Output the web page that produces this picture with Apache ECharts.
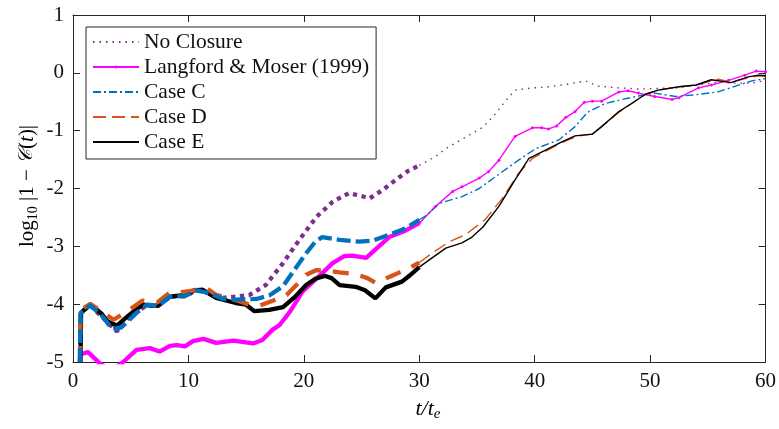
<!DOCTYPE html>
<html>
<head>
<meta charset="utf-8">
<script src="https://cdn.jsdelivr.net/npm/echarts@6/dist/echarts.min.js"></script>
<style>
html,body{margin:0;padding:0;background:#fff;}
#chart{width:779px;height:429px;}
</style>
</head>
<body>
<div id="chart"></div>
<script>
// ---- data (t/t_e, log10|1-C(t)|) ----
const xTicks = [0, 10, 20, 30, 40, 50, 60];
const yTicks = [-5, -4, -3, -2, -1, 0, 1];
const seriesNames = ['No Closure', 'Langford & Moser (1999)', 'Case C', 'Case D', 'Case E'];
const tSplit = 30;

const noClosure = [[0.6,-5],[0.65,-4.15],[1.5,-4.02],[2.5,-4.22],[3.8,-4.47],[5.0,-4.2],[6.4,-4.02],[7.4,-4.03],[8.4,-3.87],[9.7,-3.86],[10.7,-3.76],[11.8,-3.81],[13.0,-3.89],[14.1,-3.87],[15.3,-3.84],[16.7,-3.67],[18.2,-3.29],[19.6,-2.89],[21.1,-2.49],[22.5,-2.23],[23.9,-2.08],[25.0,-2.13],[25.7,-2.17],[26.8,-2.03],[28.3,-1.80],[29.0,-1.70],[30,-1.60],[31.4,-1.45],[32.3,-1.31],[34.3,-1.08],[35.5,-0.94],[36.6,-0.71],[37.5,-0.48],[38.3,-0.30],[39.8,-0.26],[40.9,-0.25],[42.7,-0.20],[44.4,-0.14],[45.5,-0.23],[47.3,-0.26],[49,-0.28],[50.7,-0.27],[52.5,-0.26],[54.2,-0.21],[55.9,-0.16],[57.6,-0.18],[59.1,-0.17],[60,-0.13]];

const langford = [[0.6,-4.87],[1.3,-4.83],[2.3,-5.02],[3.3,-5.15],[4.35,-5.0],[5.5,-4.79],[6.65,-4.76],[7.5,-4.82],[8.4,-4.72],[9.0,-4.71],[9.7,-4.73],[10.4,-4.64],[11.3,-4.60],[12.4,-4.67],[13.9,-4.63],[15.6,-4.68],[16.4,-4.62],[17.3,-4.44],[17.9,-4.36],[18.8,-4.13],[19.9,-3.78],[21.3,-3.52],[22.5,-3.29],[23.5,-3.17],[24.2,-3.16],[25.4,-3.2],[26.5,-3.0],[27.4,-2.84],[28.8,-2.73],[30,-2.6],[31.4,-2.31],[32.9,-2.05],[33.7,-1.97],[35.2,-1.82],[36,-1.71],[36.9,-1.51],[38.3,-1.10],[39.8,-0.95],[40.6,-0.95],[41.2,-0.97],[41.9,-0.92],[42.7,-0.77],[43.5,-0.67],[44.3,-0.51],[45,-0.49],[45.8,-0.49],[47.3,-0.33],[48.1,-0.31],[49,-0.35],[50.4,-0.41],[51.9,-0.46],[52.5,-0.43],[54.2,-0.26],[55.3,-0.21],[56.8,-0.13],[58.2,-0.04],[59.2,0.03],[60,0.02]];

const caseC = [[0.6,-5],[0.65,-4.15],[1.5,-4.02],[2.5,-4.2],[3.4,-4.43],[4.2,-4.4],[5.5,-4.15],[6.4,-4.01],[7.4,-4.03],[8.4,-3.87],[9.7,-3.86],[10.7,-3.76],[11.8,-3.81],[13.0,-3.91],[14.1,-3.92],[15.9,-3.91],[17.0,-3.85],[18.2,-3.69],[19.0,-3.46],[20.2,-3.12],[21.0,-2.92],[21.6,-2.84],[23.1,-2.89],[24.8,-2.92],[26.0,-2.9],[27.4,-2.80],[28.8,-2.69],[30,-2.54],[30.6,-2.47],[31.7,-2.26],[33.7,-2.14],[35.2,-2.0],[37.2,-1.71],[38.6,-1.51],[40.1,-1.31],[42.1,-1.16],[43.5,-0.93],[44.6,-0.68],[46.1,-0.53],[47.6,-0.46],[49,-0.40],[50.4,-0.35],[52.2,-0.41],[53.9,-0.38],[55.9,-0.33],[57.4,-0.23],[58.8,-0.14],[60,-0.10]];

const caseD = [[0.6,-5],[0.65,-4.1],[1.5,-4.0],[2.5,-4.12],[3.5,-4.27],[4.5,-4.15],[6.0,-3.94],[7.3,-3.97],[8.4,-3.80],[9.5,-3.79],[10.5,-3.76],[11.5,-3.71],[12.4,-3.84],[13.5,-3.9],[14.4,-3.95],[15.3,-4.01],[16.2,-4.02],[17.6,-3.92],[18.5,-3.84],[19.4,-3.66],[20.2,-3.49],[21.1,-3.41],[22.0,-3.42],[23.1,-3.45],[24.5,-3.48],[25.5,-3.55],[26.2,-3.63],[27.4,-3.53],[28.3,-3.45],[29.2,-3.37],[30,-3.28],[31.1,-3.12],[32.6,-2.92],[34,-2.80],[35.7,-2.54],[37.2,-2.17],[38.6,-1.74],[39.8,-1.48],[40.9,-1.36],[42.4,-1.2],[43.8,-1.09],[45,-1.06],[45.8,-0.93],[47.3,-0.68],[48.4,-0.53],[49.6,-0.37],[50.7,-0.30],[52.5,-0.24],[54,-0.21],[55.9,-0.11],[57,-0.16],[58.5,-0.09],[59.4,-0.05],[60,-0.06]];

const caseE = [[0.65,-5],[0.7,-4.15],[1.5,-4.0],[2.5,-4.17],[3.0,-4.3],[3.8,-4.37],[4.8,-4.2],[6.0,-4.01],[7.3,-4.03],[8.4,-3.87],[9.7,-3.84],[10.5,-3.76],[11.2,-3.75],[12.4,-3.89],[14.1,-3.98],[15.0,-4.01],[15.7,-4.12],[17.0,-4.1],[18.2,-4.05],[19.2,-3.88],[20.2,-3.67],[21.0,-3.56],[21.8,-3.51],[22.4,-3.55],[23.1,-3.67],[24.5,-3.7],[25.3,-3.76],[26.2,-3.9],[27.1,-3.71],[28.5,-3.61],[29.2,-3.5],[30,-3.36],[30.9,-3.23],[32.3,-3.03],[33.7,-2.94],[34.5,-2.85],[35.5,-2.67],[36.9,-2.31],[38.3,-1.85],[39.5,-1.48],[40.9,-1.34],[42.4,-1.19],[43.5,-1.09],[45,-1.06],[45.8,-0.93],[47.3,-0.67],[48.4,-0.53],[49.6,-0.37],[50.7,-0.30],[52.5,-0.24],[54,-0.21],[55.3,-0.12],[57,-0.17],[58.5,-0.07],[59.4,-0.04],[60,-0.05]];

// ---- styles ----
const FONT = '"Liberation Serif", "DejaVu Serif", serif';
const AX = '#262626';
const styles = {
  'No Closure':             {color:'#7E2F8E', thin:[1.5,5],   thick:[4.3,4.5], sym:false},
  'Langford & Moser (1999)':{color:'#FF00FF', thin:'solid',   thick:'solid',   sym:true},
  'Case C':                 {color:'#0072BD', thin:[8,3,2,3], thick:[14,5],    sym:false},
  'Case D':                 {color:'#D95319', thin:[13,6],    thick:[16,12],   sym:false},
  'Case E':                 {color:'#000000', thin:'solid',   thick:'solid',   sym:false}
};
const dataMap = {
  'No Closure': noClosure,
  'Langford & Moser (1999)': langford,
  'Case C': caseC,
  'Case D': caseD,
  'Case E': caseE
};

function thinSeries(name){
  const s = styles[name];
  return {
    name: name, type:'line', data: dataMap[name].filter(p => p[0] >= tSplit),
    symbol: s.sym ? 'circle' : 'none', symbolSize: 3, showSymbol: s.sym,
    itemStyle:{color:s.color}, color: s.color,
    lineStyle:{color:s.color, width:1.4, type:s.thin, cap:'butt'},
    animation:false, clip:true, z:2
  };
}
function thickSeries(name){
  const s = styles[name];
  return {
    name: name + ' thick', type:'line', data: dataMap[name].filter(p => p[0] <= tSplit),
    symbol:'none', color: s.color,
    lineStyle:{color:s.color, width:4.3, type:s.thick, cap:'butt'},
    animation:false, clip:true, z:3
  };
}

const series = [];
seriesNames.forEach(n => series.push(thinSeries(n)));
['No Closure','Langford & Moser (1999)','Case E','Case D','Case C'].forEach(n => series.push(thickSeries(n)));

const chart = echarts.init(document.getElementById('chart'), null, {renderer:'canvas'});
const axisCommon = {
  type:'value',
  axisLine:{show:true, onZero:false, lineStyle:{color:AX, width:1}},
  axisTick:{show:true, inside:true, length:7, lineStyle:{color:AX, width:1}},
  splitLine:{show:false}
};
chart.setOption({
  animation:false,
  backgroundColor:'#fff',
  grid:{left:73, right:12, top:15, bottom:67, containLabel:false},
  xAxis:[
    Object.assign({}, axisCommon, {position:'bottom', min:xTicks[0], max:xTicks[xTicks.length-1], interval:10,
      axisLabel:{show:true, color:'#111', fontFamily:FONT, fontSize:21, margin:9}}),
    Object.assign({}, axisCommon, {position:'top', min:xTicks[0], max:xTicks[xTicks.length-1], interval:10,
      axisLabel:{show:false}})
  ],
  yAxis:[
    Object.assign({}, axisCommon, {position:'left', min:yTicks[0], max:yTicks[yTicks.length-1], interval:1,
      axisLabel:{show:true, color:'#111', fontFamily:FONT, fontSize:21, margin:9}}),
    Object.assign({}, axisCommon, {position:'right', min:yTicks[0], max:yTicks[yTicks.length-1], interval:1,
      axisLabel:{show:false}})
  ],
  legend:{
    show:true, orient:'vertical', left:86, top:27,
    data: seriesNames.map(n => ({name:n, itemStyle:{opacity: styles[n].sym ? 1 : 0}})),
    backgroundColor:'#fff', borderColor:AX, borderWidth:1, borderRadius:0,
    padding:[4,7,6,6], itemWidth:46, itemHeight:4, itemGap:3,
    textStyle:{fontFamily:FONT, fontSize:21.5, color:'#111'},
    selectedMode:false
  },
  graphic:[
    {type:'text', x:27, y:186, rotation:Math.PI/2, z:10,
      style:{
        text:'{a|log}{s|10}{a| |1 − }{c|𝒞}{a|(}{i|t}{a|)|}',
        align:'center', verticalAlign:'middle',
        rich:{
          a:{fontFamily:FONT, fontSize:21, color:'#111', lineHeight:26},
          s:{fontFamily:FONT, fontSize:14, color:'#111', lineHeight:12, verticalAlign:'bottom'},
          c:{fontFamily:'"DejaVu Serif", serif', fontStyle:'italic', fontSize:20, color:'#111', lineHeight:26},
          i:{fontFamily:FONT, fontStyle:'italic', fontSize:21, color:'#111', lineHeight:26}
        }
      }},
    {type:'text', x:428, y:409, z:10,
      style:{
        text:'{i|t/t}{s|e}',
        align:'center', verticalAlign:'middle',
        rich:{
          i:{fontFamily:FONT, fontStyle:'italic', fontSize:22, color:'#111', lineHeight:26},
          s:{fontFamily:FONT, fontStyle:'italic', fontSize:15, color:'#111', lineHeight:12, verticalAlign:'bottom'}
        }
      }}
  ],
  series: series
});
</script>
</body>
</html>
